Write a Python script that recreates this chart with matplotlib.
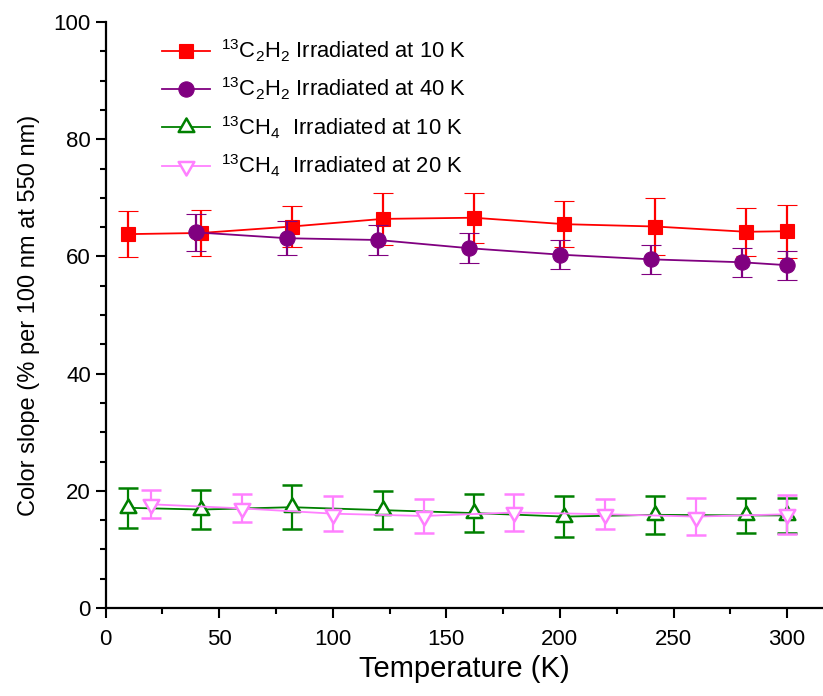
import matplotlib
matplotlib.use("Agg")
import matplotlib.pyplot as plt
from matplotlib.path import Path
from matplotlib.lines import Line2D
from matplotlib.ticker import MultipleLocator
import numpy as np

plt.rcParams['font.family'] = ['Liberation Sans', 'DejaVu Sans']
plt.rcParams['mathtext.fontset'] = 'custom'
plt.rcParams['mathtext.rm'] = 'Liberation Sans'
plt.rcParams['mathtext.it'] = 'Liberation Sans:italic'
plt.rcParams['mathtext.default'] = 'regular'

# 13C2H2 irradiated at 10 K
t_c2h2_10 = [10, 42, 82, 122, 162, 202, 242, 282, 300]
s_c2h2_10 = [63.8, 64.0, 65.1, 66.4, 66.6, 65.5, 65.1, 64.2, 64.3]
e_c2h2_10 = [3.9, 3.9, 3.5, 4.4, 4.3, 3.9, 4.8, 4.1, 4.5]

# 13C2H2 irradiated at 40 K
t_c2h2_40 = [40, 80, 120, 160, 200, 240, 280, 300]
s_c2h2_40 = [64.1, 63.1, 62.8, 61.4, 60.3, 59.5, 59.0, 58.5]
e_c2h2_40 = [3.1, 2.9, 2.6, 2.6, 2.5, 2.5, 2.5, 2.5]

# 13CH4 irradiated at 10 K
t_ch4_10 = [10, 42, 82, 122, 162, 202, 242, 282, 300]
s_ch4_10 = [17.1, 16.8, 17.2, 16.7, 16.2, 15.6, 15.9, 15.8, 15.8]
e_ch4_10 = [3.4, 3.3, 3.8, 3.2, 3.3, 3.5, 3.2, 3.0, 3.0]

# 13CH4 irradiated at 20 K
t_ch4_20 = [20, 60, 100, 140, 180, 220, 260, 300]
s_ch4_20 = [17.7, 17.0, 16.1, 15.7, 16.3, 16.0, 15.6, 16.0]
e_ch4_20 = [2.4, 2.4, 3.0, 2.95, 3.1, 2.6, 3.1, 3.3]

labels = [
    r'$^{13}$C$_2$H$_2$ Irradiated at 10 K',
    r'$^{13}$C$_2$H$_2$ Irradiated at 40 K',
    r'$^{13}$CH$_4$  Irradiated at 10 K',
    r'$^{13}$CH$_4$  Irradiated at 20 K',
]
colors = ['#FF0000', '#800080', '#008000', '#FF80FF']

# triangles centred on their centroid
h = np.sqrt(3)
tri_up = Path([(-1, -h / 3), (1, -h / 3), (0, 2 * h / 3), (-1, -h / 3)],
              [Path.MOVETO, Path.LINETO, Path.LINETO, Path.CLOSEPOLY])
tri_dn = Path([(-1, h / 3), (1, h / 3), (0, -2 * h / 3), (-1, h / 3)],
              [Path.MOVETO, Path.LINETO, Path.LINETO, Path.CLOSEPOLY])

styles = [
    dict(marker='s', markersize=10, markerfacecolor=colors[0], markeredgewidth=0.8),
    dict(marker='o', markersize=11, markerfacecolor=colors[1], markeredgewidth=0.8),
    dict(marker=tri_up, markersize=13, markerfacecolor='white', markeredgewidth=1.8),
    dict(marker=tri_dn, markersize=13, markerfacecolor='white', markeredgewidth=1.8),
]

fig = plt.figure(figsize=(8.23, 6.96), dpi=100)
ax = fig.add_axes([105.5 / 823, 88 / 696, (823 - 105.5) / 823, 586 / 696])

series = [
    (t_c2h2_10, s_c2h2_10, e_c2h2_10),
    (t_c2h2_40, s_c2h2_40, e_c2h2_40),
    (t_ch4_10, s_ch4_10, e_ch4_10),
    (t_ch4_20, s_ch4_20, e_ch4_20),
]

for i, (t, s, e) in enumerate(series):
    ax.errorbar(t, s, yerr=e, color=colors[i], markeredgecolor=colors[i],
                elinewidth=1.6, capsize=7.5, capthick=1.6, linewidth=1.3,
                zorder=3 + i, **styles[i])

ax.set_xlim(0, 315.8)
ax.set_ylim(0, 100)
ax.xaxis.set_major_locator(MultipleLocator(50))
ax.xaxis.set_minor_locator(MultipleLocator(25))
ax.yaxis.set_major_locator(MultipleLocator(20))
ax.yaxis.set_minor_locator(MultipleLocator(5))

for sp in ('top', 'right'):
    ax.spines[sp].set_visible(False)
for sp in ('left', 'bottom'):
    ax.spines[sp].set_linewidth(1.6)
ax.tick_params(which='major', direction='out', length=7, width=1.5, labelsize=16)
ax.tick_params(axis='x', which='major', pad=8)
ax.tick_params(which='minor', direction='out', length=4, width=1.5)

ax.set_xlabel('Temperature (K)', fontsize=21, labelpad=4)
ax.set_ylabel('Color slope (% per 100 nm at 550 nm)', fontsize=17, labelpad=10)

handles = [Line2D([], [], color=colors[i], markeredgecolor=colors[i],
                  linewidth=1.3, **styles[i]) for i in range(4)]
ax.legend(handles, labels, loc='upper left', bbox_to_anchor=(0.057, 1.0),
          frameon=False, fontsize=15.8, handlelength=2.2, handletextpad=0.5,
          labelspacing=0.54, borderaxespad=0.3)

fig.savefig('out.png', dpi=100)
